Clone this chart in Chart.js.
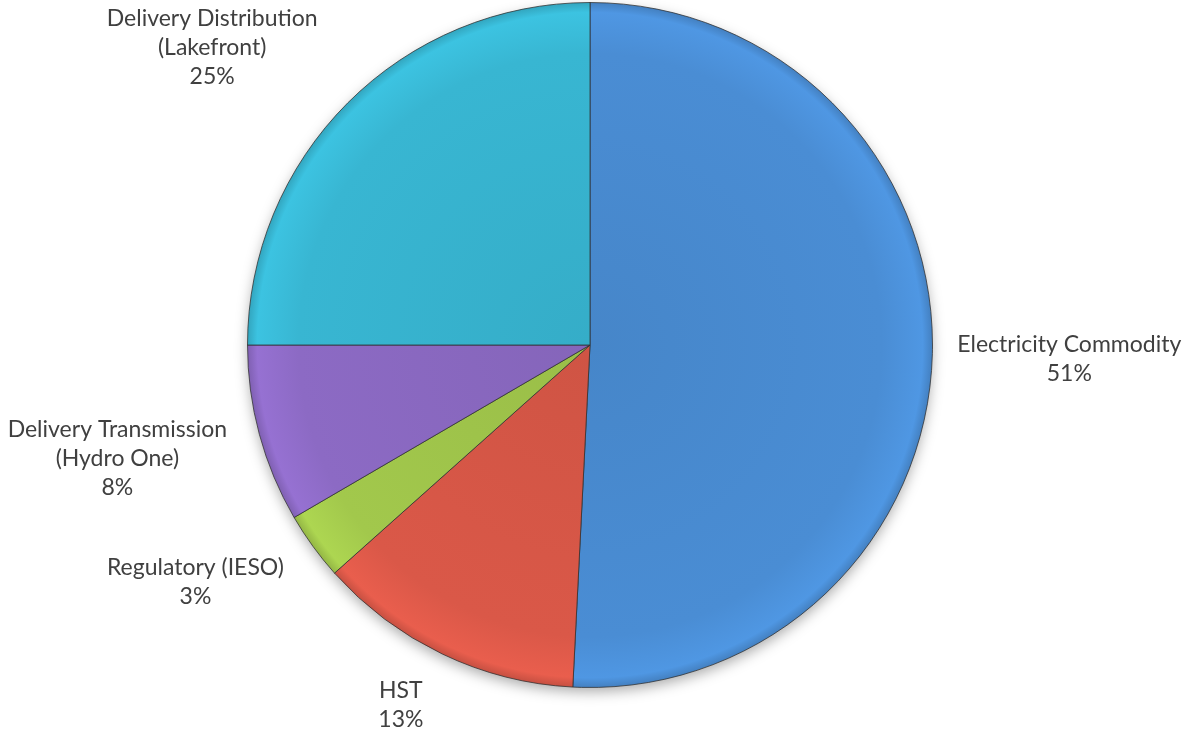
<!DOCTYPE html>
<html>
<head>
<meta charset="utf-8">
<script src="https://cdn.jsdelivr.net/npm/chart.js@4/dist/chart.umd.min.js"></script>
<style>
  html, body { margin: 0; padding: 0; background: #ffffff; }
  #wrap { width: 1189px; height: 729px; position: relative; }
</style>
</head>
<body>
<div id="wrap"><canvas id="c"></canvas></div>
<script>
// ---- data ----
const categories = [
  "Electricity Commodity",
  "HST",
  "Regulatory (IESO)",
  "Delivery Transmission\n(Hydro One)",
  "Delivery Distribution\n(Lakefront)"
];
const shares = [50.8, 12.6, 3.2, 8.4, 25.0];

// ---- styles ----
const baseColors = [
  [74, 141, 212],
  [218, 88, 72],
  [162, 200, 76],
  [140, 106, 196],
  [56, 182, 210]
];
const labelNudge = [[-2, 5], [-20, 1], [-24, 4], [-10, 7], [-42, -4]];

function shade(c, f) {
  return 'rgb(' + c.map(v => Math.max(0, Math.min(255, Math.round(v * f)))).join(',') + ')';
}

function sliceFill(ctx) {
  const chart = ctx.chart;
  const area = chart.chartArea;
  if (!area) return shade(baseColors[ctx.dataIndex], 1);
  const cx = (area.left + area.right) / 2;
  const cy = (area.top + area.bottom) / 2;
  const r = Math.min(area.right - area.left, area.bottom - area.top) / 2;
  const c = baseColors[ctx.dataIndex];
  const g = chart.ctx.createRadialGradient(cx, cy, 0, cx, cy, r);
  g.addColorStop(0, shade(c, 0.95));
  g.addColorStop(0.85, shade(c, 1.0));
  g.addColorStop(0.97, shade(c, 1.07));
  g.addColorStop(1, shade(c, 0.9));
  return g;
}

const shadowPlugin = {
  id: 'pieShadow',
  beforeDatasetsDraw(chart) {
    const meta = chart.getDatasetMeta(0);
    if (!meta.data.length) return;
    const a = meta.data[0];
    const ctx = chart.ctx;
    ctx.save();
    ctx.shadowColor = 'rgba(0,0,0,0.35)';
    ctx.shadowBlur = 14;
    ctx.shadowOffsetY = 5;
    ctx.beginPath();
    ctx.arc(a.x, a.y, a.outerRadius - 1, 0, Math.PI * 2);
    ctx.fillStyle = '#ffffff';
    ctx.fill();
    ctx.restore();
  }
};

const labelPlugin = {
  id: 'outsideLabels',
  afterDatasetsDraw(chart, args, opts) {
    const meta = chart.getDatasetMeta(0);
    const ctx = chart.ctx;
    const vals = chart.data.datasets[0].data;
    const total = vals.reduce((s, v) => s + v, 0);
    ctx.save();
    ctx.font = opts.font;
    ctx.fillStyle = opts.color;
    ctx.textAlign = 'center';
    ctx.textBaseline = 'alphabetic';
    meta.data.forEach((arc, i) => {
      const p = arc.getProps(['x', 'y', 'startAngle', 'endAngle', 'outerRadius'], true);
      const mid = (p.startAngle + p.endAngle) / 2;
      const lines = String(chart.data.labels[i]).split('\n');
      lines.push(Math.round(vals[i] / total * 100) + '%');
      const w = Math.max(...lines.map(l => ctx.measureText(l).width));
      const h = lines.length * opts.lineHeight;
      const R = p.outerRadius + opts.gap;
      const px = p.x + Math.cos(mid) * R;
      const py = p.y + Math.sin(mid) * R;
      const cx = px + Math.cos(mid) * w / 2 + labelNudge[i][0];
      const cy = py + Math.sin(mid) * h / 2 + labelNudge[i][1];
      const top = cy - h / 2;
      lines.forEach((l, k) => {
        ctx.fillText(l, cx, top + (k + 1) * opts.lineHeight - 8);
      });
    });
    ctx.restore();
  }
};

new Chart(document.getElementById('c'), {
  type: 'pie',
  data: {
    labels: categories,
    datasets: [{
      data: shares,
      backgroundColor: sliceFill,
      borderColor: 'rgba(45,45,45,0.75)',
      borderWidth: 1
    }]
  },
  options: {
    responsive: true,
    maintainAspectRatio: false,
    animation: false,
    rotation: 0,
    layout: { padding: { top: 2, bottom: 41, left: 0, right: 9 } },
    plugins: {
      legend: { display: false },
      tooltip: { enabled: false },
      outsideLabels: { font: '23px Lato', color: '#404040', lineHeight: 29, gap: 27 }
    }
  },
  plugins: [shadowPlugin, labelPlugin]
});
</script>
</body>
</html>
